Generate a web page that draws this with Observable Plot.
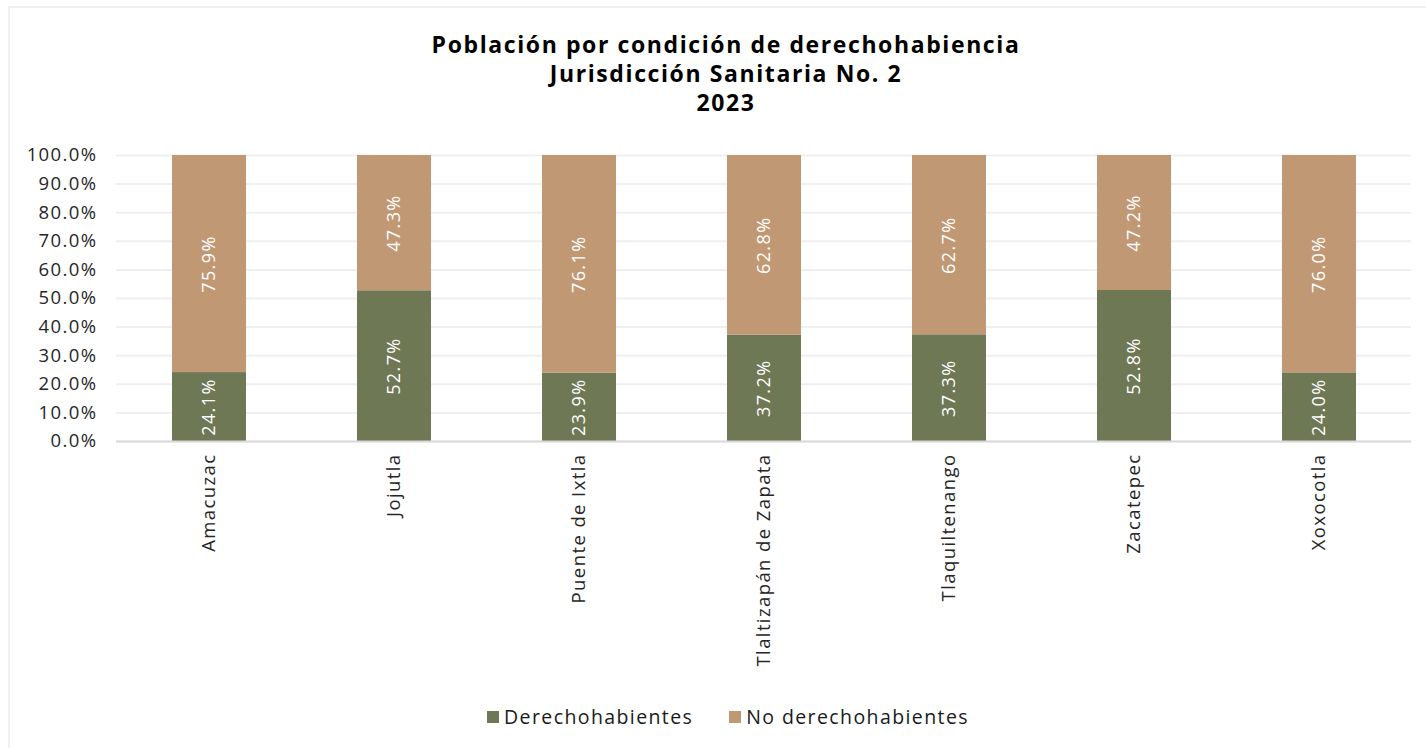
<!DOCTYPE html>
<html>
<head>
<meta charset="utf-8">
<script src="https://cdn.jsdelivr.net/npm/d3@7"></script>
<script src="https://cdn.jsdelivr.net/npm/@observablehq/plot@0.6"></script>
<style>
  html, body { margin: 0; padding: 0; background: #fff; overflow: hidden; }
  body { width: 1426px; height: 748px; position: relative; font-family: "Open Sans", sans-serif; }
  #frame { position: absolute; left: 8px; top: 6px; width: 1440px; height: 760px; border: 2px solid #efefef; box-sizing: border-box; }
  #title { position: absolute; left: 0; top: 30px; width: 1452px; text-align: center; font-weight: bold; font-size: 23px; line-height: 29px; color: #000; letter-spacing: 1.6px; }
  #chart { position: absolute; left: 0; top: 130px; }
  #chart svg text { letter-spacing: 1.4px; }
  #legend { position: absolute; left: 0; top: 703px; width: 1456px; display: flex; justify-content: center; gap: 36px; font-size: 19.5px; color: #1a1a1a; letter-spacing: 1.4px; }
  .item { display: flex; align-items: center; gap: 5px; }
  .sw { width: 12px; height: 12px; display: inline-block; }
</style>
</head>
<body>
<div id="frame"></div>
<div id="title">Población por condición de derechohabiencia<br>Jurisdicción Sanitaria No. 2<br>2023</div>
<div id="chart"></div>
<div id="legend"></div>
<script>
const municipios = ["Amacuzac", "Jojutla", "Puente de Ixtla", "Tlaltizapán de Zapata", "Tlaquiltenango", "Zacatepec", "Xoxocotla"];
const derechohabientes = [24.1, 52.7, 23.9, 37.2, 37.3, 52.8, 24.0];
const noDerechohabientes = [75.9, 47.3, 76.1, 62.8, 62.7, 47.2, 76.0];
const series = ["Derechohabientes", "No derechohabientes"];
const colors = ["#6e7855", "#c09874"];
const yTicks = [0, 0.1, 0.2, 0.3, 0.4, 0.5, 0.6, 0.7, 0.8, 0.9, 1.0];

const data = [];
municipios.forEach((m, i) => {
  data.push({municipio: m, serie: series[0], value: derechohabientes[i] / 100});
  data.push({municipio: m, serie: series[1], value: noDerechohabientes[i] / 100});
});

const chart = Plot.plot({
  width: 1426,
  height: 560,
  marginLeft: 116,
  marginRight: 15,
  marginTop: 25,
  marginBottom: 249,
  style: {fontFamily: "Open Sans, sans-serif", fontSize: "18.5px", color: "#262626", background: "transparent"},
  x: {domain: municipios, paddingInner: 0.6, paddingOuter: 0.3, label: null, tickSize: 0, tickPadding: 12, tickRotate: -90},
  y: {domain: [0, 1], label: null, ticks: yTicks, tickFormat: d3.format(".1%"), tickSize: 0, tickPadding: 19},
  color: {domain: series, range: colors},
  marks: [
    Plot.gridY(yTicks, {stroke: "#efefef", strokeWidth: 2, strokeOpacity: 1}),
    Plot.barY(data, Plot.stackY({x: "municipio", y: "value", fill: "serie", order: series})),
    Plot.ruleY([0], {stroke: "#d9d9d9", strokeWidth: 2}),
    Plot.text(data, Plot.stackY({x: "municipio", y: "value", z: "serie", order: series, text: d => d3.format(".1%")(d.value), rotate: -90, fill: "white", fontSize: 18}))
  ]
});
document.getElementById("chart").appendChild(chart);

const legend = document.getElementById("legend");
series.forEach((s, i) => {
  const it = document.createElement("div");
  it.className = "item";
  const sw = document.createElement("span");
  sw.className = "sw";
  sw.style.background = colors[i];
  const t = document.createElement("span");
  t.textContent = s;
  it.appendChild(sw); it.appendChild(t);
  legend.appendChild(it);
});
</script>
</body>
</html>
